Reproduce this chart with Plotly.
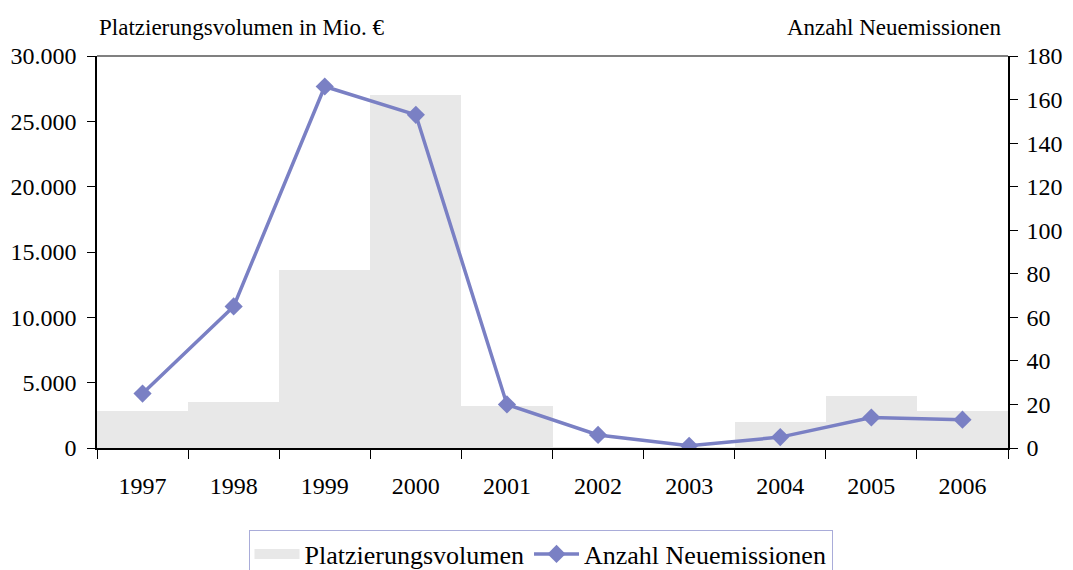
import plotly.graph_objects as go

years = ["1997", "1998", "1999", "2000", "2001", "2002", "2003", "2004", "2005", "2006"]
volume_mio_eur = [2800, 3500, 13600, 27000, 3200, 60, 30, 2000, 4000, 2800]
new_issues = [25, 65, 166, 153, 20, 6, 1, 5, 14, 13]

FONT = "Liberation Serif, Times New Roman, serif"
LINE_COLOR = "#7A80C4"
BAR_COLOR = "#E8E8E8"

fig = go.Figure()
fig.add_trace(go.Bar(
    x=years, y=volume_mio_eur, name="Platzierungsvolumen", showlegend=False,
    marker=dict(color=BAR_COLOR, line=dict(width=0)), width=1.0,
))
# legend-only proxy so the swatch is a wide grey block like the original
fig.add_trace(go.Scatter(
    x=[None], y=[None], name="Platzierungsvolumen", mode="lines",
    line=dict(color=BAR_COLOR, width=16),
))
fig.add_trace(go.Scatter(
    x=years, y=new_issues, name="Anzahl Neuemissionen", yaxis="y2",
    mode="lines+markers",
    line=dict(color=LINE_COLOR, width=3.5),
    marker=dict(symbol="diamond", size=14, color=LINE_COLOR),
))

fig.update_layout(
    width=1065, height=562,
    margin=dict(l=89, r=65, t=48, b=122, autoexpand=False),
    paper_bgcolor="white", plot_bgcolor="white",
    font=dict(family=FONT, size=24, color="black"),
    separators=",.",
    bargap=0,
    showlegend=True,
    legend=dict(
        orientation="h", x=0.5, xref="container", xanchor="center",
        y=0.072, yref="container", yanchor="top",
        bordercolor="#A9ACD9", borderwidth=1, font=dict(size=26),
        itemwidth=45, tracegroupgap=0,
    ),
    xaxis=dict(
        type="category", range=[-0.5, 9.5], automargin=False,
        showline=True, linecolor="black", linewidth=1.5,
        ticks="outside", ticklen=9, tickcolor="black", tickson="boundaries",
        ticklabelstandoff=15, showgrid=False,
    ),
    yaxis=dict(
        range=[0, 30000], dtick=5000, tickformat=",d", automargin=False,
        showline=True, linecolor="black", linewidth=1.5,
        ticks="outside", ticklen=8, tickcolor="black",
        showgrid=False, zeroline=False, ticklabelstandoff=6,
    ),
    yaxis2=dict(
        overlaying="y", side="right", range=[0, 180], dtick=20, automargin=False,
        showline=True, linecolor="black", linewidth=1.5,
        ticks="outside", ticklen=8, tickcolor="black",
        showgrid=False, zeroline=False, ticklabelstandoff=4,
    ),
    shapes=[dict(
        type="line", xref="paper", yref="paper", x0=0, x1=1, y0=1, y1=1,
        line=dict(color="#808080", width=2),
    )],
    annotations=[
        dict(text="Platzierungsvolumen in Mio. €", xref="paper", yref="paper",
             x=0, y=1, xanchor="left", yanchor="bottom", yshift=14,
             showarrow=False, font=dict(size=23)),
        dict(text="Anzahl Neuemissionen", xref="paper", yref="paper",
             x=1, y=1, xanchor="right", yanchor="bottom", yshift=14, xshift=-5,
             showarrow=False, font=dict(size=23)),
    ],
)

fig.write_html("out.html")
